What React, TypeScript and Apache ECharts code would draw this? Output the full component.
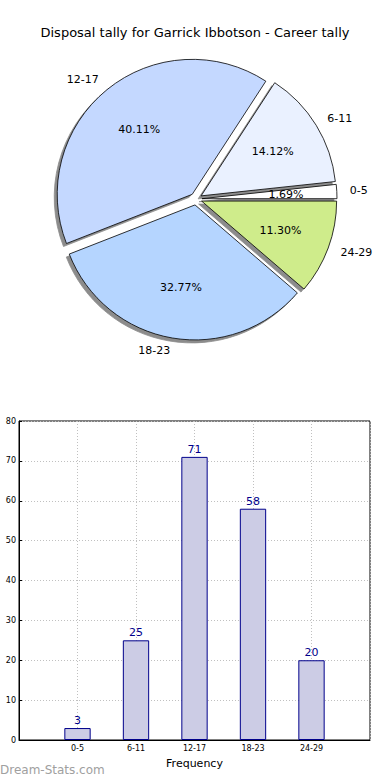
import React, { useEffect, useRef } from "react";
import * as echarts from "echarts";

const categories = ["0-5", "6-11", "12-17", "18-23", "24-29"];
const tallies = [3, 25, 71, 58, 20];
const sliceColors = ["#ffffff", "#eaf1ff", "#c4d8ff", "#b5d5ff", "#cfec8b"];
const yTicks = { min: 0, max: 80, interval: 10 };
const titleText = "Disposal tally for Garrick Ibbotson - Career tally";
const xAxisName = "Frequency";
const watermark = "Dream-Stats.com";

const FONT = "DejaVu Sans";

export default function App() {
  const ref = useRef<HTMLDivElement>(null);
  useEffect(() => {
    document.body.style.margin = "0";
    const chart = echarts.init(ref.current!, null, { renderer: "svg" });
    const total = tallies.reduce((a, b) => a + b, 0);
    const pieData = categories.map((c, i) => ({
      name: c,
      value: tallies[i],
      selected: true,
      itemStyle: { color: sliceColors[i] },
    }));
    const barCats = ["", ...categories, ""];
    const barData: (number | null)[] = [null, ...tallies, null];
    const R = 135;
    chart.setOption({
      animation: false,
      title: {
        text: titleText,
        left: "center",
        top: 21,
        textStyle: { fontFamily: FONT, fontSize: 13, fontWeight: "normal", color: "#000" },
      },
      graphic: [
        {
          type: "text",
          left: 0,
          top: 764,
          style: {
            text: watermark,
            font: `12px ${FONT}`,
            fill: "#a0a0a0",
          },
        },
      ],
      grid: {
        left: 19,
        right: 20,
        top: 421,
        bottom: 40,
        show: true,
        borderColor: "#000",
        borderWidth: 1,
        backgroundColor: "transparent",
      },
      xAxis: {
        type: "category",
        data: barCats,
        boundaryGap: false,
        name: xAxisName,
        nameLocation: "middle",
        nameGap: 18,
        nameTextStyle: { fontFamily: FONT, fontSize: 11, color: "#000" },
        axisLine: { lineStyle: { color: "#000" } },
        axisTick: { show: false },
        axisLabel: { fontFamily: FONT, fontSize: 8, color: "#000", margin: 4, interval: 0 },
        splitLine: { show: true, lineStyle: { color: "#c0c0c0", type: [1, 2] } },
      },
      yAxis: {
        type: "value",
        min: yTicks.min,
        max: yTicks.max,
        interval: yTicks.interval,
        axisLine: { show: true, lineStyle: { color: "#000" } },
        axisTick: { show: true, inside: true, length: 3, lineStyle: { color: "#000" } },
        axisLabel: { fontFamily: FONT, fontSize: 8, color: "#000", margin: 3 },
        splitLine: { show: true, lineStyle: { color: "#c0c0c0", type: [1, 2] } },
      },
      series: [
        {
          type: "pie",
          center: [196, 199],
          radius: [0, R],
          startAngle: 0,
          clockwise: false,
          selectedMode: "multiple",
          selectedOffset: 6,
          avoidLabelOverlap: false,
          silent: true,
          data: pieData,
          itemStyle: {
            borderColor: "#000",
            borderWidth: 0.8,
            shadowColor: "rgba(0,0,0,0.45)",
            shadowBlur: 1,
            shadowOffsetX: -3,
            shadowOffsetY: 3,
          },
          label: {
            show: true,
            position: "outside",
            alignTo: "none",
            distanceToLabelLine: 0,
            fontFamily: FONT,
            fontSize: 11,
            color: "#000",
            formatter: "{b}",
          },
          labelLine: { show: false, length: 13, length2: 0 },
          emphasis: { disabled: true },
        },
        {
          type: "pie",
          center: [196, 199],
          radius: [R * 0.2, R],
          startAngle: 0,
          clockwise: false,
          selectedMode: "multiple",
          selectedOffset: 6,
          avoidLabelOverlap: false,
          silent: true,
          data: pieData.map((d) => ({ ...d, itemStyle: { color: "transparent" } })),
          itemStyle: { borderWidth: 0 },
          label: {
            show: true,
            position: "inside",
            fontFamily: FONT,
            fontSize: 11,
            color: "#000",
            formatter: (p: any) => `${((p.value / total) * 100).toFixed(2)}%`,
          },
          labelLine: { show: false },
          emphasis: { disabled: true },
        },
        {
          type: "bar",
          data: barData,
          barWidth: "45%",
          itemStyle: { color: "#cccce5", borderColor: "#00008b", borderWidth: 1 },
          label: {
            show: true,
            position: "top",
            distance: 2,
            fontFamily: FONT,
            fontSize: 11,
            color: "#00008b",
          },
        },
      ],
    });
    return () => chart.dispose();
  }, []);
  return <div ref={ref} style={{ width: 390, height: 780 }} />;
}
